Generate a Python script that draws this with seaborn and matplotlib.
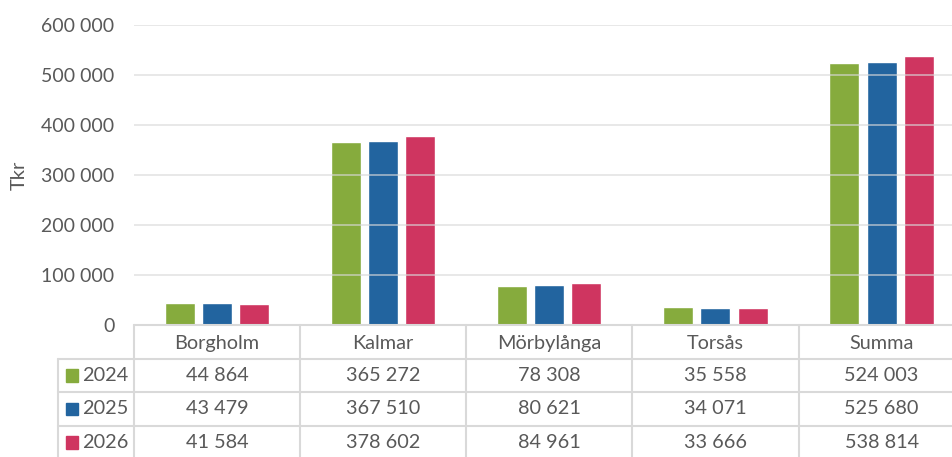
import pandas as pd
import matplotlib.pyplot as plt
import matplotlib.transforms as mtransforms
from matplotlib.patches import Rectangle
import seaborn as sns

# data
kommuner = ['Borgholm', 'Kalmar', 'Mörbylånga', 'Torsås', 'Summa']
years = ['2024', '2025', '2026']
v2024 = [44864, 365272, 78308, 35558, 524003]
v2025 = [43479, 367510, 80621, 34071, 525680]
v2026 = [41584, 378602, 84961, 33666, 538814]
colors = ['#86AB3D', '#22649F', '#CF3560']
yticks = [0, 100000, 200000, 300000, 400000, 500000, 600000]

values = {'2024': v2024, '2025': v2025, '2026': v2026}
df = pd.DataFrame([(k, y, values[y][i]) for y in years for i, k in enumerate(kommuner)],
                  columns=['kommun', 'year', 'tkr'])

def fmt(v):
    return f'{v:,}'.replace(',', ' ')

sns.set_style('white')
plt.rcParams['font.family'] = ['Lato', 'DejaVu Sans']
txt = '#595959'
grid = '#D9D9D9'
fs = 14.3

W, H = 953, 457
fig = plt.figure(figsize=(W / 100, H / 100), dpi=100)
ax = fig.add_axes([134 / W, (H - 325) / H, 1 - 134 / W, 300 / H])

sns.barplot(data=df, x='kommun', y='tkr', hue='year', palette=colors,
            width=0.67, gap=0.19, ax=ax, legend=False, saturation=1, zorder=2)

ax.set_ylim(0, 600000)
ax.set_xlim(-0.5, 4.43)
ax.set_yticks(yticks)
ax.set_yticklabels([fmt(t) for t in yticks], fontsize=14, color=txt)
ax.tick_params(axis='y', length=0, pad=14)
ax.set_xticks([])
ax.set_xlabel('')
ax.set_ylabel('Tkr', fontsize=14.5, color=txt, labelpad=10)
ax.yaxis.grid(True, color=grid, lw=1.2, alpha=0.7, zorder=3)
ax.set_axisbelow(False)
for s in ax.spines.values():
    s.set_visible(False)

# data table below the plot
row_h = 33.5 / 300  # in axes units
tr = mtransforms.blended_transform_factory(ax.transData, ax.transAxes)
lw = 1.5
ax.plot([-0.5, 4.5], [0, 0], transform=tr, color=grid, lw=lw, clip_on=False)
left_x = -0.5 - 76 / 166
for r in range(1, 4):
    ax.plot([left_x, 4.5], [-r * row_h] * 2, transform=tr, color=grid, lw=lw, clip_on=False)
for c in range(5):
    ax.plot([c - 0.5] * 2, [0, -4 * row_h], transform=tr, color=grid, lw=lw, clip_on=False)
ax.plot([left_x] * 2, [-row_h, -4 * row_h], transform=tr, color=grid, lw=lw, clip_on=False)

for i, k in enumerate(kommuner):
    ax.text(i, -0.55 * row_h, k, transform=tr, ha='center', va='center',
            fontsize=fs, color=txt)
for r, y in enumerate(years):
    yc = -(r + 1.5) * row_h
    ax.add_patch(Rectangle((left_x + 8 / 166, yc - 0.022), 12 / 166, 0.042,
                           transform=tr, color=colors[r], clip_on=False))
    ax.text(left_x + 24 / 166, yc, y, transform=tr, ha='left', va='center',
            fontsize=fs, color=txt)
    for i in range(5):
        ax.text(i, yc, fmt(values[y][i]), transform=tr, ha='center', va='center',
                fontsize=fs, color=txt)

fig.savefig('out.png', dpi=100)
